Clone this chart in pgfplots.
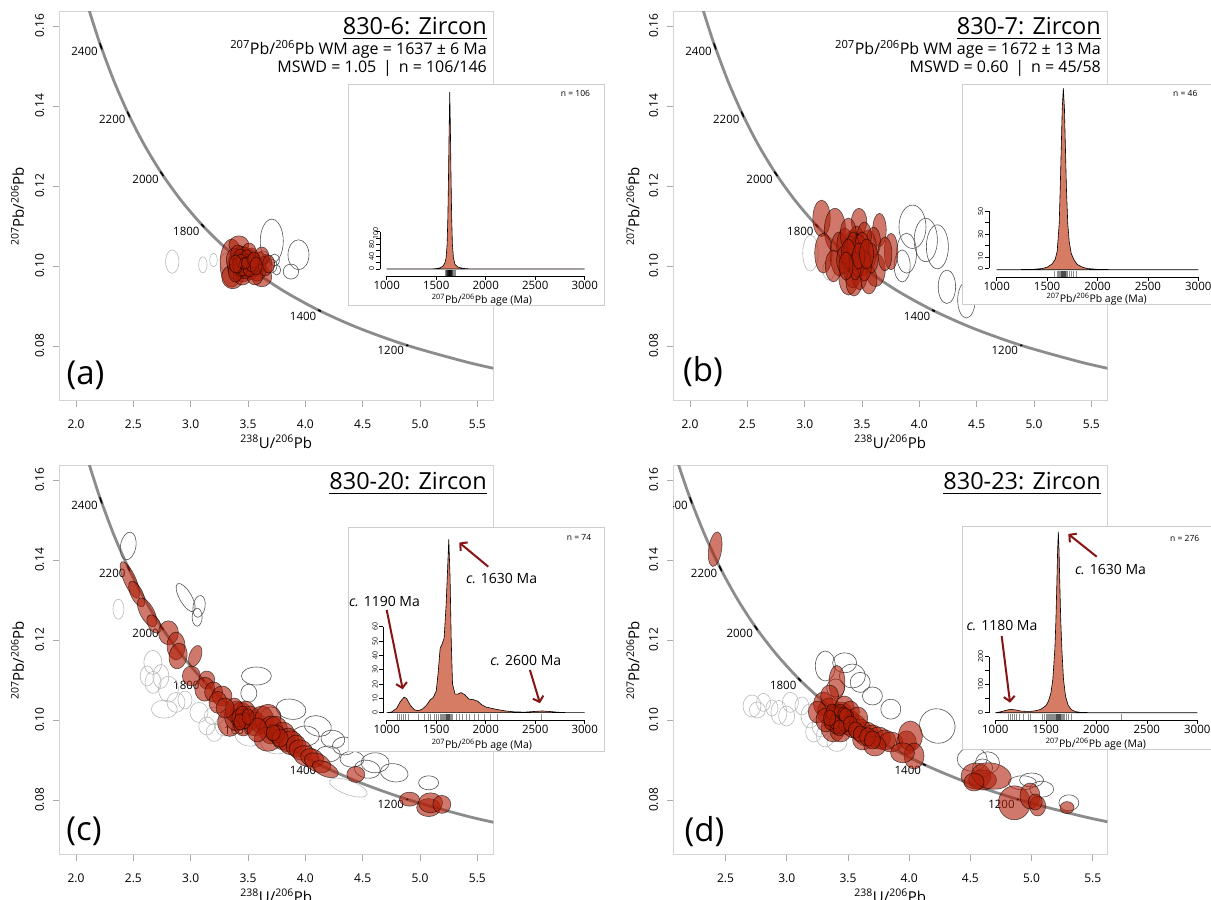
\documentclass[border=0pt]{standalone}
\usepackage{pgfplots}
\pgfplotsset{compat=1.18}
\usepackage{pgfplotstable}
\usepackage{fontspec}
\setmainfont{Open Sans}
\usetikzlibrary{arrows.meta}

\definecolor{ellred}{RGB}{175,30,8}
\definecolor{kdecol}{RGB}{214,124,100}
\definecolor{framegray}{RGB}{212,212,212}
\definecolor{tickgray}{RGB}{170,170,170}
\definecolor{curvegray}{RGB}{140,140,140}
\definecolor{dgray}{RGB}{85,85,85}
\definecolor{lgray}{RGB}{185,185,185}
\definecolor{arrowred}{RGB}{135,20,20}
\definecolor{insetgray}{RGB}{205,205,205}

\newcommand\ftick{\fontsize{12}{14}\selectfont}
\newcommand\fage{\fontsize{11.5}{13}\selectfont}
\newcommand\ftitle{\fontsize{23.5}{26}\selectfont}
\newcommand\fsub{\fontsize{16}{18}\selectfont}
\newcommand\flab{\fontsize{15}{17}\selectfont}
\newcommand\fletter{\fontsize{33}{36}\selectfont}
\newcommand\finset{\fontsize{11.5}{13}\selectfont}
\newcommand\finlab{\fontsize{10.5}{12}\selectfont}
\newcommand\fsmall{\fontsize{7}{8}\selectfont}
\newcommand\fn{\fontsize{8.5}{10}\selectfont}
\newcommand\fann{\fontsize{14}{16}\selectfont}

\def\ellA{1}\def\ellB{1}\def\ellR{0}
\def\ellparse#1:#2:#3\relax{\def\ellA{#1}\def\ellB{#2}\def\ellR{#3}}
\pgfdeclareplotmark{ellF}{\pgfscope\pgftransformrotate{\ellR}\pgfpathellipse{\pgfpointorigin}{\pgfqpoint{\ellA pt}{0pt}}{\pgfqpoint{0pt}{\ellB pt}}\pgfsetfillcolor{ellred}\pgfsetfillopacity{0.6}\pgfsetstrokecolor{black}\pgfsetstrokeopacity{0.65}\pgfsetlinewidth{0.55pt}\pgfusepath{fill,stroke}\endpgfscope}
\pgfdeclareplotmark{ellD}{\pgfscope\pgftransformrotate{\ellR}\pgfpathellipse{\pgfpointorigin}{\pgfqpoint{\ellA pt}{0pt}}{\pgfqpoint{0pt}{\ellB pt}}\pgfsetstrokecolor{dgray}\pgfsetlinewidth{0.6pt}\pgfusepath{stroke}\endpgfscope}
\pgfdeclareplotmark{ellL}{\pgfscope\pgftransformrotate{\ellR}\pgfpathellipse{\pgfpointorigin}{\pgfqpoint{\ellA pt}{0pt}}{\pgfqpoint{0pt}{\ellB pt}}\pgfsetstrokecolor{lgray}\pgfsetlinewidth{0.6pt}\pgfusepath{stroke}\endpgfscope}
\pgfdeclareplotmark{ellK}{\pgfscope\pgftransformrotate{\ellR}\pgfpathellipse{\pgfpointorigin}{\pgfqpoint{\ellA pt}{0pt}}{\pgfqpoint{0pt}{\ellB pt}}\pgfsetfillcolor{black}\pgfusepath{fill}\endpgfscope}

\tikzset{
  agelab/.style={anchor=north east, inner sep=0pt, xshift=-3pt, yshift=-1pt, font=\fage},
  annot/.style={draw=arrowred, line width=2pt, -{Straight Barb[length=5pt,width=11pt]}},
}
\pgfplotsset{
  ell/.style={only marks, scatter, mark=#1, point meta=explicit symbolic,
    scatter/@pre marker code/.code={\expandafter\ellparse\pgfplotspointmeta\relax},
    scatter/@post marker code/.code={}},
  tw/.style={anchor=south west, scale only axis, width=434pt, height=389.3pt,
    ymin=0.06625, ymax=0.16357,
    axis line style={draw=framegray, line width=1pt},
    tick style={draw=tickgray, line width=0.8pt},
    tick align=outside, major tick length=6.5pt,
    xtick pos=bottom, ytick pos=left,
    ytick={0.08,0.10,0.12,0.14,0.16},
    yticklabels={0.08,0.10,0.12,0.14,0.16},
    xticklabel style={font=\ftick, inner sep=0pt, anchor=north, yshift=-12pt},
    yticklabel style={font=\ftick, inner sep=0pt, xshift=-8.5pt, rotate=90, anchor=south},
    clip=true},
  curve/.style={draw=curvegray, line width=2.8pt, smooth},
  kde/.style={anchor=south west, scale only axis, xmin=1000, xmax=3000,
    axis x line*=bottom, hide y axis, clip=false,
    xtick={1000,1500,2000,2500,3000}, xticklabels={1000,1500,2000,2500,3000},
    tick align=outside, major tick length=4pt,
    axis line style={black, line width=0.6pt}, tick style={black, line width=0.6pt},
    xticklabel style={font=\finset, inner sep=1pt}},
  kdey/.style={anchor=south west, scale only axis, width=0.5pt, xmin=0, xmax=1, ymin=0,
    axis y line*=left, hide x axis,
    tick align=outside, major tick length=4pt,
    axis line style={black, line width=0.6pt}, tick style={black, line width=0.6pt},
    yticklabel style={font=\fsmall, inner sep=0pt, xshift=-1.5pt, rotate=90, anchor=south}},
  kdefill/.style={fill=kdecol, draw=black, line width=0.6pt},
  rug/.style={only marks, mark=|, mark size=3pt, mark options={draw=black, draw opacity=0.45, line width=0.4pt}},
}

% Tera-Wasserburg concordia (238U/206Pb, 207Pb/206Pb) at 1000...2600 Ma
\pgfplotstableread{
x y
5.9594 0.072532
5.6530 0.074347
5.3746 0.076222
4.8875 0.080158
4.47558 0.084360
4.12268 0.088847
3.81697 0.093641
3.54968 0.098761
3.31393 0.104235
3.10458 0.110089
2.91738 0.116347
2.74902 0.123041
2.59681 0.130209
2.45857 0.137883
2.33245 0.146101
2.21696 0.154900
2.16278 0.159539
2.11080 0.164333
2.01290 0.174444
}\concordia
\pgfplotstableread{
x y m
2.21696 0.154900 4:0.9:-70
2.45857 0.137883 3.6:0.9:-66
2.74902 0.123041 3.2:0.9:-55
3.10458 0.110089 2.8:1:-48
3.54968 0.098761 2.4:1:-39
4.12268 0.088847 2:1:-27
4.8875 0.080158 1.7:1.1:-18
}\agetick

\begin{document}
\begin{tikzpicture}[x=1pt,y=1pt]

%================ (a) =================
\begin{axis}[tw, at={(59.3pt,499pt)}, xmin=1.854, xmax=5.639,
  xtick={2,2.5,3,3.5,4,4.5,5,5.5}, xticklabels={2.0,2.5,3.0,3.5,4.0,4.5,5.0,5.5}]
\addplot[curve] table {\concordia};
\addplot[ell=ellK] table[meta=m] {\agetick};
\node[agelab] at (axis cs:2.21696,0.1549) {2400};
\node[agelab] at (axis cs:2.45857,0.137883) {2200};
\node[agelab] at (axis cs:2.74902,0.123041) {2000};
\node[agelab] at (axis cs:3.10458,0.110089) {1800};
\node[agelab] at (axis cs:4.12268,0.088847) {1400};
\node[agelab] at (axis cs:4.8875,0.080158) {1200};
\addplot[ell=ellL] table[meta=m] {
x y m
2.839 0.1011 6.7:11.7:0
3.106 0.1003 4.2:8:0
3.199 0.1015 3.8:6.7:0
3.31 0.1010 6:9:0
};
\addplot[ell=ellD] table[meta=m] {
x y m
3.707 0.1062 11.5:22:0
3.940 0.1028 10.5:15:0
3.874 0.0986 7.7:7.5:0
3.70 0.1000 6:7:0
3.66 0.1012 5:7:0
3.73 0.1015 5:6:0
3.63 0.1020 6:7:0
3.75 0.0990 4:5:0
};
\addplot[ell=ellF] table[meta=m] {
x y m
3.356 0.1007 11.5:24:0
3.366 0.0973 11:12:0
3.42 0.1053 10:9:0
3.62 0.0973 10:10:0
3.40 0.1000 9:14:0
3.44 0.1020 8:12:0
3.48 0.1005 9:13:0
3.52 0.0995 8:12:0
3.46 0.0985 8:10:0
3.50 0.1015 9:11:0
3.55 0.1005 8:12:0
3.58 0.0990 9:11:0
3.60 0.1010 8:10:0
3.43 0.0995 7:11:0
3.47 0.1025 7:9:0
3.53 0.1020 7:10:0
3.38 0.1015 8:12:0
3.45 0.0975 9:9:0
3.56 0.0975 8:9:0
3.65 0.1000 7:10:0
3.49 0.0995 6:9:0
3.41 0.1030 7:9:0
3.51 0.1035 7:9:0
3.62 0.1025 7:9:0
3.39 0.0985 7:10:0
3.54 0.1000 6:8:0
3.47 0.1010 6:8:0
3.44 0.1005 6:8:0
3.50 0.1005 5:7:0
3.68 0.1005 6:9:0
3.46 0.1000 5:7:0
3.48 0.1012 5:7:0
3.45 0.1008 6:8:0
3.52 0.1010 5:7:0
3.42 0.1010 6:9:0
3.44 0.0998 7:10:0
3.46 0.1015 6:8:0
3.48 0.0990 6:9:0
3.50 0.1000 7:9:0
3.43 0.1022 6:8:0
3.47 0.1003 5:8:0
3.49 0.1018 6:9:0
3.45 0.0993 5:7:0
3.51 0.0993 6:8:0
3.53 0.1008 6:9:0
3.41 0.1002 5:8:0
3.44 0.1012 5:7:0
3.46 0.1006 4:6:0
3.48 0.1007 4:6:0
3.55 0.1015 6:8:0
3.57 0.1000 6:9:0
3.39 0.1005 6:9:0
};
\end{axis}
\node[anchor=base east, inner sep=0pt, font=\ftitle] (ta) at (487,865) {830-6: Zircon};
\draw[line width=1.2pt] ([yshift=-3.2pt]ta.base west) -- ([yshift=-3.2pt]ta.base east);
\node[anchor=base east, inner sep=0pt, font=\fsub] at (487,845) {\textsuperscript{207}Pb/\textsuperscript{206}Pb WM age = 1637 ± 6 Ma};
\node[anchor=base east, inner sep=0pt, font=\fsub] at (487,827) {MSWD = 1.05 \,|\, n = 106/146};
\node[font=\fletter, inner sep=0pt] at (85.5,525) {(a)};
\node[font=\flab] at (276.3,458.3) {\textsuperscript{238}U/\textsuperscript{206}Pb};
\node[font=\flab, rotate=90] at (17.5,693.5) {\textsuperscript{207}Pb/\textsuperscript{206}Pb};
% inset (a)
\draw[draw=insetgray, line width=1pt, fill=white] (348.5,594) rectangle (604.3,815.5);
\begin{axis}[kde, at={(386.7pt,624pt)}, width=198pt, height=185pt, ymin=-18.8, ymax=477]
\addplot[kdefill] table {
1000 0
1450 0
1500 1
1540 3
1570 8
1590 18
1600 30
1610 65
1618 140
1625 260
1631 380
1637 474
1643 380
1649 260
1656 140
1664 65
1674 30
1690 12
1720 5
1770 1.5
1850 0
3000 0
} \closedcycle;
\addplot[rug] coordinates {(1588,-12) (1598,-12) (1604,-12) (1608,-12) (1612,-12) (1615,-12) (1618,-12) (1620,-12) (1622,-12) (1625,-12) (1627,-12) (1630,-12) (1632,-12) (1634,-12) (1636,-12) (1638,-12) (1640,-12) (1642,-12) (1645,-12) (1648,-12) (1650,-12) (1652,-12) (1655,-12) (1660,-12) (1665,-12) (1670,-12) (1680,-12) (1690,-12)};
\end{axis}
\begin{axis}[kdey, at={(380pt,631pt)}, height=37.3pt, ymax=120, ytick={0,20,40,60,80,100,120}, yticklabels={0,,40,,80,,}, extra y ticks={113}, extra y tick labels={100}, extra y tick style={major tick length=0pt}]
\end{axis}
\node[anchor=base west, font=\fn, inner sep=0pt] at (560.7,803.7) {n = 106};
\node[font=\finlab] at (482,600) {\textsuperscript{207}Pb/\textsuperscript{206}Pb age (Ma)};

%================ (b) =================
\begin{axis}[tw, at={(673.3pt,499pt)}, xmin=1.854, xmax=5.639,
  xtick={2,2.5,3,3.5,4,4.5,5,5.5}, xticklabels={2.0,2.5,3.0,3.5,4.0,4.5,5.0,5.5}]
\addplot[curve] table {\concordia};
\addplot[ell=ellK] table[meta=m] {\agetick};
\node[agelab] at (axis cs:2.21696,0.1549) {2400};
\node[agelab] at (axis cs:2.45857,0.137883) {2200};
\node[agelab] at (axis cs:2.74902,0.123041) {2000};
\node[agelab] at (axis cs:3.10458,0.110089) {1800};
\node[agelab] at (axis cs:4.12268,0.088847) {1400};
\node[agelab] at (axis cs:4.8875,0.080158) {1200};
\addplot[ell=ellL] table[meta=m] {
x y m
3.05 0.1032 7.7:18:0
3.21 0.0990 6:10:0
};
\addplot[ell=ellD] table[meta=m] {
x y m
3.94 0.1098 13.5:21.7:0
4.056 0.1065 11.6:21.7:0
4.157 0.1048 11:22:0
3.888 0.1032 10:20:0
4.24 0.0948 8.7:16.7:0
4.41 0.0915 8.7:18:0
3.85 0.1000 8:16:0
4.55 0.0950 9:18:0
};
\addplot[ell=ellF] table[meta=m] {
x y m
3.147 0.1119 8.7:18.3:0
3.264 0.1090 10.6:21.7:0
3.474 0.1111 7.7:13.3:0
3.652 0.1090 6.8:16.7:0
3.753 0.1036 6.8:18.3:0
3.382 0.0973 9.7:18.3:0
3.618 0.0990 9.7:16.7:0
3.163 0.1032 8.7:20:0
3.416 0.1040 9:20:0
3.30 0.1030 9:22:0
3.35 0.1050 8:18:0
3.45 0.1060 8:16:0
3.50 0.1020 8:18:0
3.55 0.1040 9:20:0
3.60 0.1060 7:15:0
3.42 0.0990 9:18:0
3.48 0.0985 8:18:0
3.70 0.1030 7:17:0
3.25 0.1000 8:16:0
3.38 0.1080 8:16:0
3.52 0.1075 7:14:0
3.45 0.1025 7:15:0
3.40 0.1020 6:14:0
3.47 0.1045 6:14:0
3.43 0.0960 8:14:0
3.56 0.0965 8:14:0
3.34 0.1015 7:14:0
3.58 0.1020 7:15:0
3.40 0.1035 7:16:0
3.44 0.1030 7:16:0
3.48 0.1040 7:15:0
3.46 0.1010 7:15:0
3.42 0.1050 6:14:0
3.50 0.1050 7:14:0
3.38 0.1030 7:15:0
3.52 0.1000 7:15:0
3.44 0.1000 6:14:0
3.47 0.1025 6:13:0
3.36 0.1000 7:14:0
3.54 0.1030 7:15:0
};
\end{axis}
\node[anchor=base east, inner sep=0pt, font=\ftitle] (tb) at (1101,865) {830-7: Zircon};
\draw[line width=1.2pt] ([yshift=-3.2pt]tb.base west) -- ([yshift=-3.2pt]tb.base east);
\node[anchor=base east, inner sep=0pt, font=\fsub] at (1101,845) {\textsuperscript{207}Pb/\textsuperscript{206}Pb WM age = 1672 ± 13 Ma};
\node[anchor=base east, inner sep=0pt, font=\fsub] at (1101,827) {MSWD = 0.60 \,|\, n = 45/58};
\node[font=\fletter, inner sep=0pt] at (703,528) {(b)};
\node[font=\flab] at (890.3,458.3) {\textsuperscript{238}U/\textsuperscript{206}Pb};
\node[font=\flab, rotate=90] at (633,693.5) {\textsuperscript{207}Pb/\textsuperscript{206}Pb};
% inset (b)
\draw[draw=insetgray, line width=1pt, fill=white] (962.7,595) rectangle (1218.5,815.7);
\begin{axis}[kde, at={(996.7pt,622.7pt)}, width=201.6pt, height=191.3pt, ymin=-6.6, ymax=159.9]
\addplot[kdefill] table {
1000 0
1350 0.2
1450 1
1500 2.2
1550 5
1580 9
1600 16
1620 40
1630 70
1640 105
1650 140
1661 158
1672 140
1682 105
1692 70
1705 40
1720 24
1740 14
1770 8
1800 4.5
1850 2.2
1900 1
2000 0.3
2200 0
3000 0
} \closedcycle;
\addplot[rug] coordinates {(1575,-4) (1600,-4) (1610,-4) (1620,-4) (1630,-4) (1635,-4) (1640,-4) (1645,-4) (1650,-4) (1655,-4) (1660,-4) (1665,-4) (1670,-4) (1675,-4) (1680,-4) (1690,-4) (1700,-4) (1720,-4) (1740,-4) (1760,-4) (1790,-4)};
\end{axis}
\begin{axis}[kdey, at={(989pt,631.7pt)}, height=57pt, ymax=50, ytick={0,10,20,30,40,50}, yticklabels={0,10,,30,,50}]
\end{axis}
\node[anchor=base west, font=\fn, inner sep=0pt] at (1173,803) {n = 46};
\node[font=\finlab] at (1096.7,601) {\textsuperscript{207}Pb/\textsuperscript{206}Pb age (Ma)};

%================ (c) =================
\begin{axis}[tw, at={(59.3pt,45pt)}, xmin=1.854, xmax=5.639,
  xtick={2,2.5,3,3.5,4,4.5,5,5.5}, xticklabels={2.0,2.5,3.0,3.5,4.0,4.5,5.0,5.5}]
\addplot[curve] table {\concordia};
\addplot[ell=ellK] table[meta=m] {\agetick};
\node[agelab] at (axis cs:2.21696,0.1549) {2400};
\node[agelab] at (axis cs:2.45857,0.137883) {2200};
\node[agelab] at (axis cs:2.74902,0.123041) {2000};
\node[agelab] at (axis cs:3.10458,0.110089) {1800};
\node[agelab] at (axis cs:3.54968,0.098761) {1600};
\node[agelab] at (axis cs:4.12268,0.088847) {1400};
\node[agelab] at (axis cs:4.8875,0.080158) {1200};
\addplot[ell=ellL] table[meta=m] {
x y m
4.375 0.0831 20:7:-20
2.37 0.1277 5.5:10:0
2.67 0.1144 9:12:0
2.74 0.1109 8:12:0
2.806 0.1077 10:13:0
2.672 0.1094 8:11:0
2.872 0.1044 9:10:0
2.77 0.1027 13:9:0
3.072 0.1019 9:10:0
3.206 0.1010 10:9:0
3.14 0.0985 8:9:0
3.206 0.0969 8:9:0
3.507 0.0960 14:10:-10
3.74 0.0943 15:11:-10
2.62 0.1110 7:10:0
2.95 0.1050 7:9:0
3.30 0.0985 10:10:0
};
\addplot[ell=ellD] table[meta=m] {
x y m
2.455 0.1435 7.7:14:-10
2.956 0.1306 16:6:-60
3.073 0.1284 6:11:-10
3.056 0.1257 5:9:0
3.573 0.1110 15:9:0
3.507 0.1067 8:9:0
3.875 0.1027 15:10:-10
4.107 0.0985 14:10:-15
4.24 0.0952 12:9:-10
4.34 0.0935 12:9:0
4.407 0.0902 12:8:0
4.54 0.0877 13:9:-10
4.608 0.0893 14:10:0
4.775 0.0868 14:9:-10
5.075 0.0843 10:7:0
4.00 0.0960 14:10:0
4.20 0.0915 12:8:0
3.70 0.1010 10:9:0
};
\addplot[ell=ellF] table[meta=m] {
x y m
2.47 0.1350 20:6:-66
2.53 0.1315 14:6:-64
2.62 0.1269 16:7:-62
2.68 0.1240 10:6:-60
2.806 0.1218 10:12:0
2.872 0.1185 9:14:0
2.89 0.1160 9:13:-10
3.04 0.1160 6:11:-20
3.006 0.1110 9:10:0
3.14 0.1100 8:9:0
3.123 0.1077 10:12:0
3.20 0.1070 9:10:0
3.273 0.1060 10:10:0
3.238 0.1044 9:11:0
3.34 0.0994 12:14:0
3.40 0.1010 12:15:0
3.44 0.1010 11:14:0
3.48 0.1015 10:13:0
3.52 0.1005 10:12:0
3.38 0.1025 9:12:0
3.46 0.0990 10:12:0
3.56 0.0990 11:12:0
3.62 0.1000 12:14:0
3.674 0.1002 13:15:0
3.70 0.0975 12:14:0
3.74 0.0977 12:13:0
3.674 0.0952 14:12:0
3.807 0.0960 12:14:0
3.85 0.0950 11:12:0
3.874 0.0943 12:12:0
3.92 0.0935 10:11:0
3.96 0.0925 12:10:-20
4.006 0.0910 13:10:-20
4.06 0.0905 12:9:-20
4.107 0.0893 14:9:-24
4.174 0.0877 14:7:-24
4.44 0.0864 9:8:0
4.908 0.0802 10:7:0
5.075 0.0781 12:9:0
5.092 0.0793 12:10:0
5.19 0.0789 9:9:0
3.58 0.0975 10:12:0
3.30 0.1030 9:10:0
3.42 0.1005 7:9:0
3.45 0.1012 7:9:0
3.47 0.0998 6:8:0
3.43 0.0995 6:8:0
3.50 0.1008 6:8:0
3.75 0.0965 8:9:0
3.78 0.0955 8:9:0
3.72 0.0968 7:8:0
};
\end{axis}
\node[anchor=base east, inner sep=0pt, font=\ftitle] (tc) at (487,410) {830-20: Zircon};
\draw[line width=1.2pt] ([yshift=-3.2pt]tc.base west) -- ([yshift=-3.2pt]tc.base east);
\node[font=\fletter, inner sep=0pt] at (84,69) {(c)};
\node[font=\flab] at (276.3,4.3) {\textsuperscript{238}U/\textsuperscript{206}Pb};
\node[font=\flab, rotate=90] at (17.5,239.5) {\textsuperscript{207}Pb/\textsuperscript{206}Pb};
% inset (c)
\draw[draw=insetgray, line width=1pt, fill=white] (348.5,148.5) rectangle (604.3,372.7);
\begin{axis}[kde, at={(386.7pt,180pt)}, width=198pt, height=185pt, ymin=-5.1, ymax=124]
\addplot[kdefill] table {
1000 0
1050 0.5
1100 3
1140 8
1175 10.8
1200 10
1240 5
1280 2
1320 1.4
1360 2.5
1400 5
1440 9
1470 10.5
1500 15
1520 28
1540 45
1560 48
1580 52
1600 75
1615 100
1627 121
1640 95
1652 50
1665 20
1690 13
1720 13
1750 14
1790 12.5
1830 9.5
1880 9
1920 8
1960 5.5
2000 4
2100 2.4
2200 1.2
2300 0.5
2400 0.4
2500 0.9
2570 1.2
2650 0.8
2750 0.2
2850 0
3000 0
} \closedcycle;
\addplot[rug] coordinates {(1110,-3.1) (1130,-3.1) (1150,-3.1) (1170,-3.1) (1190,-3.1) (1220,-3.1) (1320,-3.1) (1380,-3.1) (1420,-3.1) (1440,-3.1) (1480,-3.1) (1500,-3.1) (1520,-3.1) (1540,-3.1) (1550,-3.1) (1560,-3.1) (1570,-3.1) (1580,-3.1) (1590,-3.1) (1600,-3.1) (1605,-3.1) (1610,-3.1) (1615,-3.1) (1620,-3.1) (1625,-3.1) (1630,-3.1) (1635,-3.1) (1640,-3.1) (1650,-3.1) (1660,-3.1) (1700,-3.1) (1730,-3.1) (1760,-3.1) (1800,-3.1) (1830,-3.1) (1880,-3.1) (1920,-3.1) (1980,-3.1) (2050,-3.1) (2120,-3.1) (2560,-3.1)};
\draw[annot] (axis cs:2026,101.9) -- (axis cs:1733,118.7);
\node[font=\fann] at (axis cs:2161,93.8) {\textit{c.} 1630 Ma};
\draw[annot] (axis cs:1000,71.7) -- (axis cs:1162,16.3);
\node[font=\fann] at (axis cs:978,77.5) {\textit{c.} 1190 Ma};
\draw[annot] (axis cs:2447,29.8) -- (axis cs:2548,6.6);
\node[font=\fann] at (axis cs:2405,36.3) {\textit{c.} 2600 Ma};
\end{axis}
\begin{axis}[kdey, at={(383.3pt,187.3pt)}, height=86pt, ymax=60, ytick={0,10,20,30,40,50,60}, yticklabels={0,10,20,30,40,50,60}]
\end{axis}
\node[anchor=base west, font=\fn, inner sep=0pt] at (566.7,359) {n = 74};
\node[font=\finlab] at (482,155) {\textsuperscript{207}Pb/\textsuperscript{206}Pb age (Ma)};

%================ (d) =================
\begin{axis}[tw, at={(673.3pt,45pt)}, xmin=2.073, xmax=5.619,
  xtick={2.5,3,3.5,4,4.5,5,5.5}, xticklabels={2.5,3.0,3.5,4.0,4.5,5.0,5.5}]
\addplot[curve] table {\concordia};
\addplot[ell=ellK] table[meta=m] {\agetick};
\node[agelab] at (axis cs:2.21696,0.1549) {2400};
\node[agelab] at (axis cs:2.45857,0.137883) {2200};
\node[agelab] at (axis cs:2.74902,0.123041) {2000};
\node[agelab] at (axis cs:3.10458,0.110089) {1800};
\node[agelab] at (axis cs:4.12268,0.088847) {1400};
\node[agelab] at (axis cs:4.8875,0.080158) {1200};
\addplot[ell=ellL] table[meta=m] {
x y m
2.716 0.1035 9:11:0
2.81 0.1044 7:9:0
2.936 0.1019 8:12:0
2.999 0.1010 8:10:0
3.124 0.1035 7:9:0
3.03 0.1044 8:10:0
3.19 0.1010 9:12:0
3.28 0.0985 9:11:0
3.315 0.0960 9:11:0
3.41 0.0944 10:9:0
2.76 0.1025 8:8:0
2.88 0.1030 6:8:0
3.22 0.0970 8:10:0
};
\addplot[ell=ellD] table[meta=m] {
x y m
3.315 0.1135 10:15:0
3.473 0.1143 12:10:0
3.536 0.1110 13:12:0
3.60 0.1094 10:10:0
3.70 0.1060 10:9:0
3.85 0.1027 10:10:0
4.23 0.0985 18:17:-30
4.515 0.0902 15:12:0
4.64 0.0893 12:11:0
4.925 0.0843 14:7:0
5.083 0.0827 12:8:0
5.305 0.0793 10:8:0
4.60 0.0880 10:9:0
5.00 0.0850 12:7:0
3.40 0.1080 9:9:0
};
\addplot[ell=ellF] table[meta=m] {
x y m
2.415 0.1427 6.5:17.5:-8
3.41 0.1094 8:17:0
3.30 0.1040 10:12:0
3.35 0.1020 12:14:0
3.40 0.1005 12:14:0
3.45 0.1010 11:14:0
3.50 0.0995 12:13:0
3.38 0.0980 12:14:0
3.44 0.0975 11:12:0
3.55 0.0985 12:12:0
3.60 0.0975 11:11:0
3.65 0.0965 12:12:0
3.70 0.0960 11:11:0
3.75 0.0955 12:11:0
3.80 0.0950 11:10:0
3.85 0.0945 12:10:0
3.62 0.0950 10:10:0
3.72 0.0935 11:10:0
3.978 0.0943 10:12:0
4.01 0.0960 12:15:0
4.04 0.0910 10:13:0
3.946 0.0918 12:10:0
3.25 0.1020 9:11:0
3.32 0.1000 10:12:0
3.47 0.1030 10:12:0
3.52 0.1020 9:11:0
3.58 0.1005 10:11:0
3.35 0.1060 9:11:0
4.546 0.0860 15:13:0
4.60 0.0850 14:10:0
4.672 0.0860 20:13:-10
4.53 0.0845 10:9:0
4.86 0.0793 16:17:0
4.987 0.0810 10:13:0
5.05 0.0785 8:10:0
5.03 0.0795 7:8:0
5.29 0.0781 7:6:0
3.42 0.0990 8:10:0
3.48 0.1000 8:10:0
3.40 0.1000 7:9:0
3.43 0.1005 6:8:0
3.46 0.0995 7:9:0
3.39 0.1012 6:8:0
3.44 0.1015 7:8:0
3.41 0.0990 6:8:0
3.47 0.1008 6:7:0
3.36 0.0995 7:8:0
3.50 0.1005 6:8:0
3.45 0.0985 6:8:0
3.38 0.1008 7:9:0
3.41 0.1000 6:8:0
3.43 0.0995 7:9:0
3.42 0.1012 6:8:0
3.45 0.1002 7:8:0
3.40 0.0985 6:8:0
3.37 0.1020 6:8:0
3.47 0.0990 6:8:0
3.44 0.1022 6:7:0
3.39 0.0995 5:7:0
3.46 0.1015 5:7:0
3.48 0.1010 6:8:0
3.35 0.1005 6:8:0
3.43 0.0980 6:8:0
3.52 0.0990 7:8:0
3.56 0.0975 7:8:0
3.60 0.0965 7:8:0
3.66 0.0958 8:9:0
3.70 0.0950 8:9:0
};
\end{axis}
\node[anchor=base east, inner sep=0pt, font=\ftitle] (td) at (1101,410) {830-23: Zircon};
\draw[line width=1.2pt] ([yshift=-3.2pt]td.base west) -- ([yshift=-3.2pt]td.base east);
\node[font=\fletter, inner sep=0pt] at (704.5,68.3) {(d)};
\node[font=\flab] at (890.3,4.3) {\textsuperscript{238}U/\textsuperscript{206}Pb};
\node[font=\flab, rotate=90] at (633,239.5) {\textsuperscript{207}Pb/\textsuperscript{206}Pb};
% inset (d)
\draw[draw=insetgray, line width=1pt, fill=white] (962.7,150) rectangle (1218.5,373.3);
\begin{axis}[kde, at={(995.3pt,180pt)}, width=202pt, height=192pt, ymin=-26, ymax=659.6]
\addplot[kdefill] table {
1000 0
1050 3
1100 8
1150 12
1200 10
1250 6
1300 5
1350 5
1400 7
1450 12
1500 25
1525 40
1550 70
1570 120
1590 230
1600 330
1610 470
1617 580
1624 646
1631 580
1638 470
1648 330
1660 220
1675 120
1695 60
1720 28
1750 12
1790 4
1850 1
2000 0
3000 0
} \closedcycle;
\addplot[rug] coordinates {(1130,-16) (1150,-16) (1170,-16) (1190,-16) (1210,-16) (1240,-16) (1280,-16) (1330,-16) (1350,-16) (1460,-16) (1480,-16) (1500,-16) (1510,-16) (1520,-16) (1530,-16) (1540,-16) (1550,-16) (1560,-16) (1570,-16) (1580,-16) (1590,-16) (1600,-16) (1605,-16) (1610,-16) (1615,-16) (1620,-16) (1625,-16) (1630,-16) (1635,-16) (1640,-16) (1645,-16) (1650,-16) (1660,-16) (1670,-16) (1680,-16) (1700,-16) (1720,-16) (1750,-16) (2250,-16)};
\draw[annot] (axis cs:2004,557) -- (axis cs:1723,638);
\node[font=\fann] at (axis cs:2141,513) {\textit{c.} 1630 Ma};
\draw[annot] (axis cs:1063,274) -- (axis cs:1146,35.7);
\node[font=\fann] at (axis cs:1066,310) {\textit{c.} 1180 Ma};
\end{axis}
\begin{axis}[kdey, at={(989pt,187.3pt)}, height=56pt, ymax=200, ytick={0,50,100,150,200}, yticklabels={0,,100,,200}]
\end{axis}
\node[anchor=base west, font=\fn, inner sep=0pt] at (1170,358.5) {n = 276};
\node[font=\finlab] at (1096,155.5) {\textsuperscript{207}Pb/\textsuperscript{206}Pb age (Ma)};

\pgfresetboundingbox
\path[use as bounding box] (0,0) rectangle (1211,900);
\end{tikzpicture}
\end{document}
